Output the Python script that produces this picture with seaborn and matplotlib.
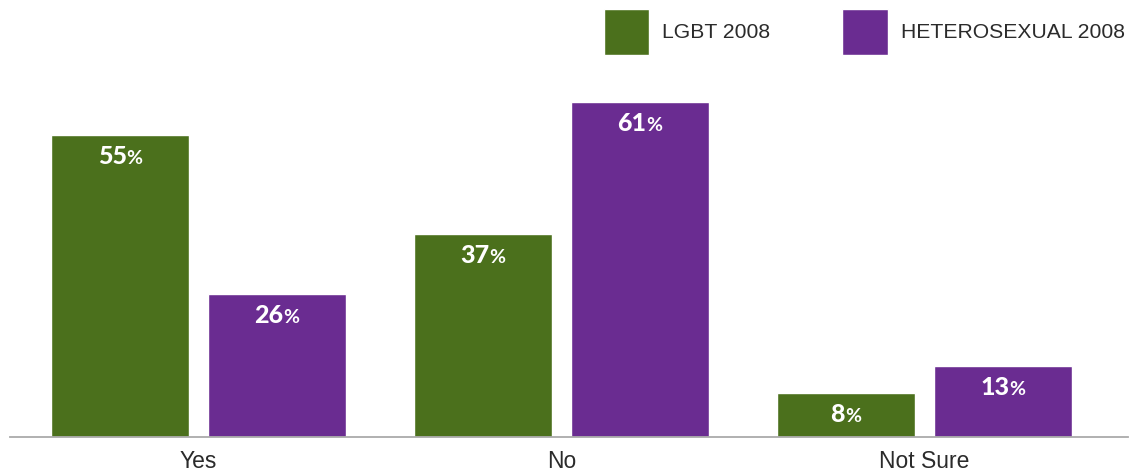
import matplotlib
matplotlib.use("Agg")
import matplotlib.pyplot as plt
import seaborn as sns
import pandas as pd

# Survey answers by group (percent)
categories = ["Yes", "No", "Not Sure"]
groups = ["LGBT 2008", "HETEROSEXUAL 2008"]
lgbt_2008 = [55, 37, 8]
hetero_2008 = [26, 61, 13]
colors = ["#4b701c", "#6a2c91"]

df = pd.DataFrame({
    "answer": categories * 2,
    "group": [groups[0]] * 3 + [groups[1]] * 3,
    "value": lgbt_2008 + hetero_2008,
})

sns.set_theme(style="white")
plt.rcParams["font.family"] = ["Liberation Sans", "DejaVu Sans"]

W, H, DPI = 1142, 472, 100
fig = plt.figure(figsize=(W / DPI, H / DPI), dpi=DPI)
ax = fig.add_axes([10 / W, 35 / H, 1118 / W, 437 / H])

sns.barplot(
    data=df, x="answer", y="value", hue="group",
    order=categories, hue_order=groups, palette=colors,
    width=0.866, gap=0.121, saturation=1, ax=ax,
)

ax.set_xlim(-0.52, 2.562)
ax.set_ylim(0, 79.5)
ax.set_xlabel("")
ax.set_ylabel("")
ax.set_yticks([])
sns.despine(ax=ax, left=True, top=True, right=True)
ax.spines["bottom"].set_color("#aaaaaa")
ax.spines["bottom"].set_linewidth(1.3)
ax.tick_params(axis="x", length=0, pad=9, labelsize=16.5, labelcolor="#2b2b2b")

# Legend with large square swatches across the top
sns.move_legend(
    ax, "upper left", bbox_to_anchor=(604 / W, 1 - 9 / H),
    bbox_transform=fig.transFigure, ncol=2, title=None, frameon=False,
    fontsize=15.2, handlelength=2.15, handleheight=2.95, handletextpad=0.62,
    columnspacing=3.4, borderpad=0, borderaxespad=0,
)
for txt in ax.get_legend().get_texts():
    txt.set_color("#2b2b2b")

# Value labels: bold number followed by a lighter percent sign
fig.canvas.draw()
renderer = fig.canvas.get_renderer()
for container, vals in zip(ax.containers, [lgbt_2008, hetero_2008]):
    for bar, v in zip(container, vals):
        cx = bar.get_x() + bar.get_width() / 2
        top = bar.get_height()
        num = ax.annotate(f"{v}", xy=(cx, top), xytext=(0, -21),
                          textcoords="offset points", ha="left", va="baseline",
                          color="white", fontsize=18, fontweight="black",
                          family="Lato")
        pct = ax.annotate("%", xy=(cx, top), xytext=(0, -21),
                          textcoords="offset points", ha="left", va="baseline",
                          color="white", fontsize=14, fontweight="bold",
                          family="Lato")
        w1 = num.get_window_extent(renderer).width
        w2 = pct.get_window_extent(renderer).width
        kern = 0
        start = -(w1 + w2 + kern) / 2
        num.set_position((start * 72 / DPI, -21))
        pct.set_position(((start + w1 + kern) * 72 / DPI, -21))

fig.savefig("out.png", dpi=DPI)
